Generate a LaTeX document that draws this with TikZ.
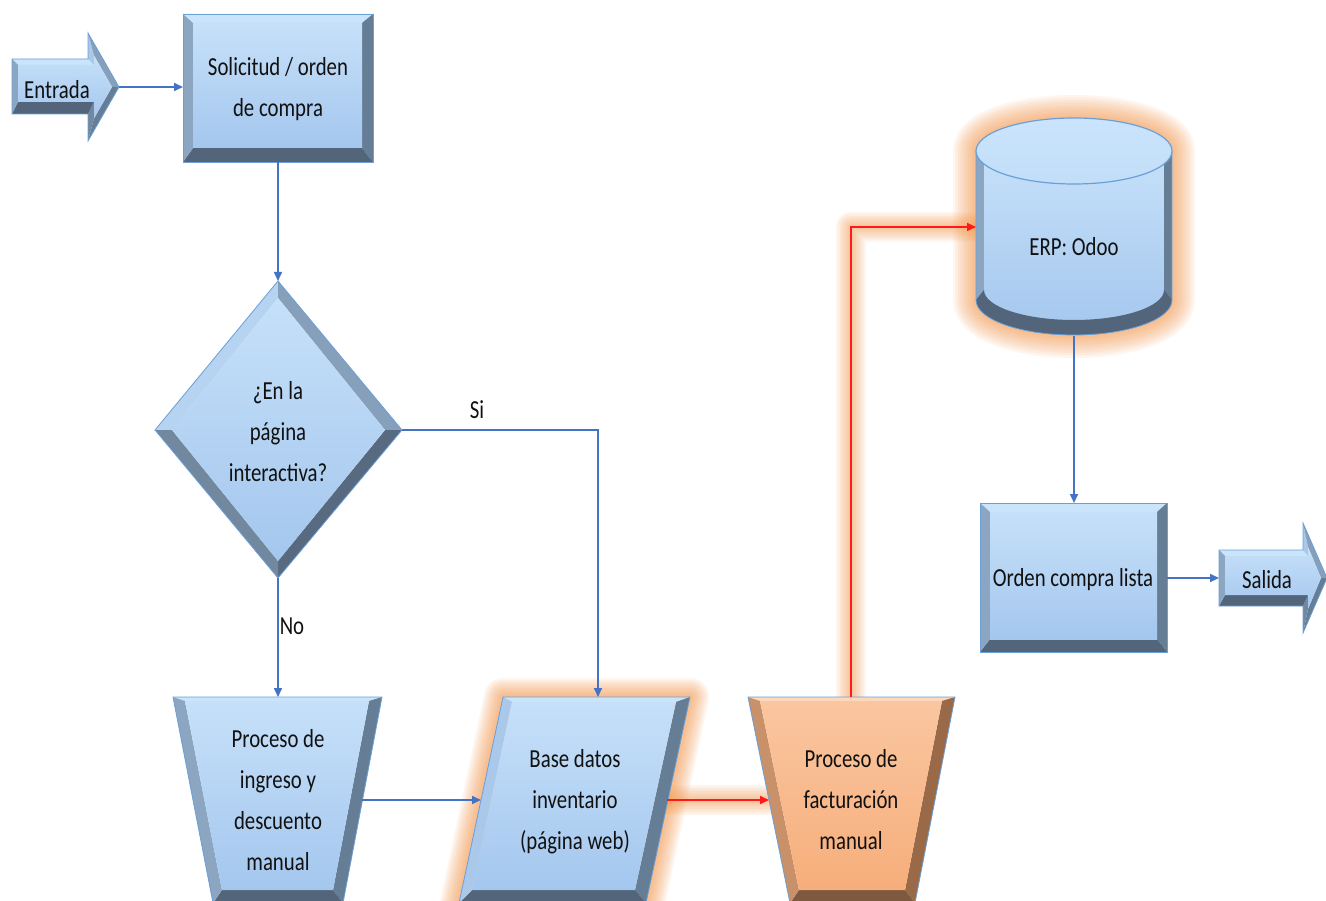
\documentclass[tikz,border=0pt]{standalone}
\usepackage{fontspec}
\setmainfont{Carlito}[FakeStretch=0.8]
\usetikzlibrary{arrows.meta}

% palette
\definecolor{faceT}{HTML}{C6E0F9}
\definecolor{faceB}{HTML}{A4C7EE}
\definecolor{bvT}{HTML}{C9E4FB}
\definecolor{bvHL}{HTML}{A9C8EA}
\definecolor{bvD}{HTML}{86A0BC}
\definecolor{bvL}{HTML}{8CA6C2}
\definecolor{bvR}{HTML}{667D96}
\definecolor{bvLow}{HTML}{71889F}
\definecolor{bvB}{HTML}{52657A}
\definecolor{rimc}{HTML}{6A9FD8}
\definecolor{oFaceT}{HTML}{FAC6A0}
\definecolor{oFaceB}{HTML}{F6AE7B}
\definecolor{oT}{HTML}{FCD8BC}
\definecolor{oL}{HTML}{C8916A}
\definecolor{oR}{HTML}{9A6A48}
\definecolor{oB}{HTML}{7E5940}
\definecolor{linkc}{HTML}{4472C4}
\definecolor{hotc}{HTML}{FF1A1A}
\definecolor{glowc}{HTML}{F79646}
\definecolor{txtc}{HTML}{111111}

% four-sided bevelled shape: #1 outer prefix, #2 inner prefix (points 1..4, clockwise from top-left edge)
\newcommand\quadbevel[2]{%
  \fill[bvTop] (#11) -- (#12) -- (#22) -- (#21) -- cycle;
  \fill[bvRight] (#12) -- (#13) -- (#23) -- (#22) -- cycle;
  \fill[bvBottom] (#13) -- (#14) -- (#24) -- (#23) -- cycle;
  \fill[bvLeft] (#14) -- (#11) -- (#21) -- (#24) -- cycle;
  \path[face] (#21) -- (#22) -- (#23) -- (#24) -- cycle;
  \draw[rim] (#11) -- (#12) -- (#13) -- (#14) -- cycle;}

% seven-point block arrow with bevel
\newcommand\arrowbevel[2]{%
  \fill[bvT] (#11) -- (#12) -- (#22) -- (#21) -- cycle;
  \fill[bvHL] (#12) -- (#13) -- (#23) -- (#22) -- cycle;
  \fill[bvD] (#13) -- (#14) -- (#24) -- (#23) -- cycle;
  \fill[bvR] (#14) -- (#15) -- (#25) -- (#24) -- cycle;
  \fill[bvLow] (#15) -- (#16) -- (#26) -- (#25) -- cycle;
  \fill[bvB] (#16) -- (#17) -- (#27) -- (#26) -- cycle;
  \fill[bvL] (#17) -- (#11) -- (#21) -- (#27) -- cycle;
  \path[face] (#21) -- (#22) -- (#23) -- (#24) -- (#25) -- (#26) -- (#27) -- cycle;
  \draw[rim] (#11) -- (#12) -- (#13) -- (#14) -- (#15) -- (#16) -- (#17) -- cycle;}

% soft orange halo along a path: #1 stroke widths, #2 path
\newcommand\halo[2]{\foreach \hw in {#1}{\draw[glowc, line width=\hw, opacity=0.085, line join=round, line cap=round] #2;}}

\begin{document}
\begin{tikzpicture}[x=1pt, y=-1pt,
  txt/.style={font=\fontsize{26}{41}\selectfont, text=txtc, align=center, inner sep=0pt},
  conn/.style={draw=linkc, line width=1.6, -{Triangle[length=9,width=8]}},
  hot/.style={draw=hotc, line width=1.6, -{Triangle[length=9,width=8]}},
  bvTop/.style={fill=bvT}, bvRight/.style={fill=bvR},
  bvBottom/.style={fill=bvB}, bvLeft/.style={fill=bvL},
  face/.style={top color=faceT, bottom color=faceB},
  rim/.style={draw=rimc, line width=0.8, line join=miter},
  warm/.style={bvTop/.style={fill=oT}, bvRight/.style={fill=oR},
    bvBottom/.style={fill=oB}, bvLeft/.style={fill=oL},
    face/.style={top color=oFaceT, bottom color=oFaceB}}]

\fill[white] (0,0) rectangle (1326,901);
\path[use as bounding box] (0,0) rectangle (1326,901);

% ---------- geometry ----------
% Entrada arrow
\coordinate (eo1) at (12,59);  \coordinate (eo2) at (88,59);  \coordinate (eo3) at (88,33);
\coordinate (eo4) at (119,87); \coordinate (eo5) at (88,141); \coordinate (eo6) at (88,114);
\coordinate (eo7) at (12,114);
\coordinate (ei1) at (18,65);  \coordinate (ei2) at (94,65);  \coordinate (ei3) at (94,55.5);
\coordinate (ei4) at (112,87); \coordinate (ei5) at (94,118.5); \coordinate (ei6) at (94,102);
\coordinate (ei7) at (18,102);
% Solicitud box
\coordinate (so1) at (183,14);  \coordinate (so2) at (373,14);
\coordinate (so3) at (373,162); \coordinate (so4) at (183,162);
\coordinate (si1) at (193,23);  \coordinate (si2) at (362,23);
\coordinate (si3) at (362,148); \coordinate (si4) at (193,148);
% decision diamond
\coordinate (do1) at (155,430); \coordinate (do2) at (278,281);
\coordinate (do3) at (402,430); \coordinate (do4) at (278,578);
\coordinate (di1) at (172,430); \coordinate (di2) at (278,298);
\coordinate (di3) at (385,430); \coordinate (di4) at (278,561);
% manual entry trapezoid
\coordinate (mo1) at (173,697); \coordinate (mo2) at (382,697);
\coordinate (mo3) at (343,903); \coordinate (mo4) at (213,903);
\coordinate (mi1) at (185,701); \coordinate (mi2) at (369,701);
\coordinate (mi3) at (333,890); \coordinate (mi4) at (222,890);
% inventory database parallelogram
\coordinate (bo1) at (503,697); \coordinate (bo2) at (690,697);
\coordinate (bo3) at (646,903); \coordinate (bo4) at (459,903);
\coordinate (bi1) at (512,702); \coordinate (bi2) at (676,702);
\coordinate (bi3) at (635,890); \coordinate (bi4) at (472,890);
% invoicing trapezoid
\coordinate (fo1) at (748,697); \coordinate (fo2) at (955,697);
\coordinate (fo3) at (915,903); \coordinate (fo4) at (790,903);
\coordinate (fi1) at (760,701); \coordinate (fi2) at (942,701);
\coordinate (fi3) at (905,890); \coordinate (fi4) at (799,890);
% order ready box
\coordinate (oo1) at (980,503);  \coordinate (oo2) at (1167,503);
\coordinate (oo3) at (1167,652); \coordinate (oo4) at (980,652);
\coordinate (oi1) at (990,512);  \coordinate (oi2) at (1157,512);
\coordinate (oi3) at (1157,639); \coordinate (oi4) at (990,639);
% Salida arrow
\coordinate (xo1) at (1219,550); \coordinate (xo2) at (1303,550); \coordinate (xo3) at (1303,523);
\coordinate (xo4) at (1327,578); \coordinate (xo5) at (1303,633); \coordinate (xo6) at (1303,606);
\coordinate (xo7) at (1219,606);
\coordinate (xi1) at (1225,556); \coordinate (xi2) at (1308,556); \coordinate (xi3) at (1308,547);
\coordinate (xi4) at (1321,578); \coordinate (xi5) at (1308,609); \coordinate (xi6) at (1308,595);
\coordinate (xi7) at (1225,595);

% connection points
\coordinate (ent-e) at (119,87);   \coordinate (sol-w) at (183,87);
\coordinate (sol-s) at (278,162);  \coordinate (dia-n) at (278,281);
\coordinate (dia-e) at (402,430);  \coordinate (dia-s) at (278,578);
\coordinate (man-n) at (278,697);  \coordinate (db-n) at (598,697);
\coordinate (man-e) at (362,800);  \coordinate (db-w) at (481,800);
\coordinate (db-e) at (667,800);   \coordinate (fac-w) at (769,800);
\coordinate (fac-n) at (851,697);  \coordinate (erp-w) at (976,227);
\coordinate (erp-s) at (1074,336); \coordinate (ord-n) at (1074,503);
\coordinate (ord-e) at (1167,578); \coordinate (sal-w) at (1219,578);

% ---------- halos ----------
\halo{38,34,30,26,22,18,14,10,6}{(bo1) -- (bo2) -- (bo3) -- (bo4) -- cycle}
\halo{46,41,36,31,26,21,16,11,6}{(976,151) -- (976,300) arc[start angle=180, end angle=0, x radius=98, y radius=35] -- (1172,151) arc[start angle=0, end angle=-180, x radius=98, y radius=33] -- cycle}
\halo{30,26,22,18,14,10,6}{(db-e) -- (fac-w)}
\halo{30,26,22,18,14,10,6}{(fac-n) |- (erp-w)}

% ---------- shapes ----------
\arrowbevel{eo}{ei}
\quadbevel{so}{si}
\begin{scope}[bvTop/.style={fill=bvHL!60!bvT}, bvRight/.style={fill=bvD}, bvBottom/.style={fill=bvR!85!black}, bvLeft/.style={fill=bvLow}]
  \quadbevel{do}{di}
\end{scope}
\quadbevel{mo}{mi}
\begin{scope}[bvLeft/.style={fill=bvHL}]
  \quadbevel{bo}{bi}
\end{scope}
\begin{scope}[warm]
  \quadbevel{fo}{fi}
\end{scope}
\quadbevel{oo}{oi}
\arrowbevel{xo}{xi}

% ERP cylinder
\path[face] (976,151) -- (976,300) arc[start angle=180, end angle=0, x radius=98, y radius=35] -- (1172,151) -- cycle;
\fill[bvL] (976,151) rectangle (984,300);
\fill[bvR] (1164,151) rectangle (1172,300);
\fill[bvB] (976,300) arc[start angle=180, end angle=0, x radius=98, y radius=35]
  -- (1164,290) arc[start angle=0, end angle=180, x radius=90, y radius=30] -- cycle;
\draw[rim] (976,151) -- (976,300) arc[start angle=180, end angle=0, x radius=98, y radius=35] -- (1172,151);
\path[top color=bvT, bottom color=faceT!90!faceB, draw=rimc, line width=1.2] (1074,151) ellipse [x radius=98, y radius=33];

% ---------- connectors ----------
\draw[conn] (ent-e) -- (sol-w);
\draw[conn] (sol-s) -- (dia-n);
\draw[conn] (dia-e) -| (db-n);
\draw[conn] (dia-s) -- (man-n);
\draw[conn] (man-e) -- (db-w);
\draw[hot] (db-e) -- (fac-w);
\draw[hot] (fac-n) |- (erp-w);
\draw[conn] (erp-s) -- (ord-n);
\draw[conn] (ord-e) -- (sal-w);

% ---------- labels ----------
\node[txt] (t-ent) at (57,90) {Entrada};
\node[txt] (t-sol) at (278,89) {Solicitud / orden\\de compra};
\node[txt] (t-dia) at (278,432) {¿En la\\página\\interactiva?};
\node[txt] (t-si) at (477,410) {Si};
\node[txt] (t-no) at (292,626) {No};
\node[txt] (t-man) at (278,800) {Proceso de\\ingreso y\\descuento\\manual};
\node[txt] (t-db) at (575,802) {Base datos\\inventario\\(página web)};
\node[txt] (t-fac) at (851,800) {Proceso de\\facturación\\manual};
\node[txt] (t-erp) at (1074,247) {ERP: Odoo};
\node[txt] (t-ord) at (1073,580) {Orden compra lista};
\node[txt] (t-sal) at (1267,580) {Salida};
\end{tikzpicture}
\end{document}
